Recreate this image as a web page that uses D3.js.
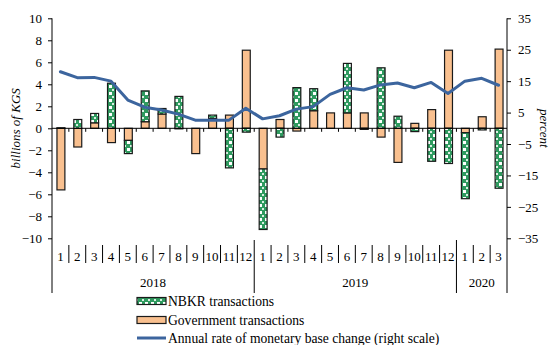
<!DOCTYPE html>
<html>
<head>
<meta charset="utf-8">
<script src="https://cdn.jsdelivr.net/npm/d3@7"></script>
<style>
  body { margin: 0; background: #fff; }
  svg { display: block; }
  text { font-family: "Liberation Serif", "Times New Roman", serif; font-size: 13px; fill: #000; }
</style>
</head>
<body>
<svg id="chart" width="554" height="345"></svg>
<script>
// Monthly periods, grouped by year
const years = ["2018", "2019", "2020"];
const monthsPerYear = [12, 12, 3];
const monthLabels = [
  "1","2","3","4","5","6","7","8","9","10","11","12",
  "1","2","3","4","5","6","7","8","9","10","11","12",
  "1","2","3"
];

// NBKR transactions, billions of KGS
const nbkrValues = [
  0.05, 0.8, 0.85, 4.1, -1.2, 2.8, 0.5, 2.9, 0, 0.3, -3.6, -0.35,
  -5.5, -0.8, 3.7, 2.0, 0, 4.5, -0.1, 5.5, 1.1, -0.3, -3.0, -3.2,
  -6.0, -0.15, -5.45
];

// Government transactions, billions of KGS
const govValues = [
  -5.6, -1.7, 0.5, -1.3, -1.1, 0.6, 1.3, -0.05, -2.3, 0.9, 1.2, 7.1,
  -3.7, 0.8, -0.25, 1.6, 1.4, 1.4, 1.4, -0.8, -3.1, 0.45, 1.7, 7.1,
  -0.4, 1.05, 7.2
];

// Annual rate of monetary base change, percent (right scale)
const baseRate = [
  18.0, 16.1, 16.2, 15.0, 9.0, 6.7, 5.8, 4.5, 2.6, 2.6, 2.6, 6.4,
  3.0, 4.0, 6.1, 6.9, 10.8, 12.9, 12.2, 13.8, 14.4, 12.9, 14.6, 11.1,
  15.0, 15.9, 13.7
];

const leftTicks = [-10, -8, -6, -4, -2, 0, 2, 4, 6, 8, 10];
const rightTicks = [-35, -25, -15, -5, 5, 15, 25, 35];

const seriesNames = ["NBKR transactions", "Government transactions", "Annual rate of monetary base change (right scale)"];

const svg = d3.select("#chart");
const plot = { left: 52, right: 507, top: 18.3, bottom: 238.3 };

const idx = d3.range(monthLabels.length);
const x = d3.scaleBand().domain(idx).range([plot.left, plot.right]).padding(0);
const yL = d3.scaleLinear().domain([-10, 10]).range([plot.bottom, plot.top]);
const yR = d3.scaleLinear().domain([-35, 35]).range([plot.bottom, plot.top]);

// Dotted fill for the NBKR segments
const defs = svg.append("defs");
const pat = defs.append("pattern")
  .attr("id", "dots").attr("patternUnits", "userSpaceOnUse")
  .attr("width", 6).attr("height", 7);
pat.append("rect").attr("width", 6).attr("height", 7).attr("fill", "#2f9a5f");
pat.append("rect").attr("x", 1).attr("y", 1).attr("width", 3).attr("height", 3).attr("fill", "#ffffff");
pat.append("rect").attr("x", 4).attr("y", 5).attr("width", 2).attr("height", 2).attr("fill", "#d9efe2");

// Stacked bars: government nearest the zero line, NBKR outside it
const rows = idx.map(i => ({ i, gov: govValues[i], nbkr: nbkrValues[i] }));
const stacked = d3.stack().keys(["gov", "nbkr"]).offset(d3.stackOffsetDiverging)(rows);
const fills = { gov: "#f9c08f", nbkr: "url(#dots)" };
const barW = x.bandwidth() * 0.47;

stacked.forEach(layer => {
  svg.append("g").selectAll("rect")
    .data(layer.filter(d => d[1] !== d[0]))
    .join("rect")
    .attr("x", d => x(d.data.i) + (x.bandwidth() - barW) / 2 + 0.5)
    .attr("y", d => yL(Math.max(d[0], d[1])))
    .attr("width", barW)
    .attr("height", d => Math.abs(yL(d[0]) - yL(d[1])))
    .attr("fill", fills[layer.key])
    .attr("stroke", "#1a1a1a")
    .attr("stroke-width", 1.2);
});

// Zero line with category ticks
const zeroY = yL(0);
svg.append("line")
  .attr("x1", plot.left).attr("x2", plot.right)
  .attr("y1", zeroY).attr("y2", zeroY)
  .attr("stroke", "#000").attr("stroke-width", 1);
svg.append("g").selectAll("line")
  .data(d3.range(1, monthLabels.length))
  .join("line")
  .attr("x1", i => x(i)).attr("x2", i => x(i))
  .attr("y1", zeroY).attr("y2", zeroY + 3.5)
  .attr("stroke", "#000").attr("stroke-width", 1);

// Monetary base line
const line = d3.line()
  .x((d, i) => x(i) + x.bandwidth() / 2)
  .y(d => yR(d))
  .curve(d3.curveLinear);
svg.append("path")
  .datum(baseRate)
  .attr("d", line)
  .attr("fill", "none")
  .attr("stroke", "#3c659e")
  .attr("stroke-width", 3)
  .attr("stroke-linejoin", "round")
  .attr("stroke-linecap", "round");

// Left axis
const axisBottomY = 293;
svg.append("line")
  .attr("x1", plot.left).attr("x2", plot.left)
  .attr("y1", plot.top).attr("y2", axisBottomY)
  .attr("stroke", "#000");
const gl = svg.append("g")
  .attr("transform", `translate(${plot.left},0)`)
  .call(d3.axisLeft(yL).tickValues(leftTicks).tickSize(4).tickPadding(6).tickFormat(d3.format("d")));
gl.select(".domain").remove();
gl.selectAll("text").attr("font-size", 13).attr("font-family", "Liberation Serif, serif").attr("fill", "#000");

// Right axis
svg.append("line")
  .attr("x1", plot.right).attr("x2", plot.right)
  .attr("y1", plot.top).attr("y2", axisBottomY)
  .attr("stroke", "#000");
const gr = svg.append("g")
  .attr("transform", `translate(${plot.right},0)`)
  .call(d3.axisRight(yR).tickValues(rightTicks).tickSize(4).tickPadding(7).tickFormat(d3.format("d")));
gr.select(".domain").remove();
gr.selectAll("text").attr("font-size", 13).attr("font-family", "Liberation Serif, serif").attr("fill", "#000");

// Axis titles
svg.append("text")
  .attr("transform", `translate(20,${(plot.top + plot.bottom) / 2}) rotate(-90)`)
  .attr("text-anchor", "middle")
  .style("font-style", "italic")
  .text("billions of KGS");
svg.append("text")
  .attr("transform", `translate(540,${(plot.top + plot.bottom) / 2}) rotate(90)`)
  .attr("text-anchor", "middle")
  .style("font-style", "italic")
  .text("percent");

// Month labels and separators
const labelY = 256;
svg.append("g").selectAll("text")
  .data(idx)
  .join("text")
  .attr("x", i => x(i) + x.bandwidth() / 2)
  .attr("y", labelY)
  .attr("dy", "0.35em")
  .attr("text-anchor", "middle")
  .text(i => monthLabels[i]);

const yearStarts = monthsPerYear.reduce((acc, n) => { acc.push(acc[acc.length - 1] + n); return acc; }, [0]);
const monthSeps = d3.range(1, monthLabels.length).filter(i => !yearStarts.includes(i));
svg.append("g").selectAll("line")
  .data(monthSeps)
  .join("line")
  .attr("x1", i => x(i)).attr("x2", i => x(i))
  .attr("y1", 245).attr("y2", 263)
  .attr("stroke", "#000");

// Year labels and group separators
svg.append("g").selectAll("line")
  .data(yearStarts.slice(1, -1))
  .join("line")
  .attr("x1", i => x(i)).attr("x2", i => x(i))
  .attr("y1", 240).attr("y2", axisBottomY)
  .attr("stroke", "#000");
svg.append("g").selectAll("text")
  .data(years)
  .join("text")
  .attr("x", (d, k) => (x(yearStarts[k]) + (yearStarts[k + 1] < monthLabels.length ? x(yearStarts[k + 1]) : plot.right)) / 2)
  .attr("y", 282)
  .attr("dy", "0.35em")
  .attr("text-anchor", "middle")
  .text(d => d);

// Legend
const lg = svg.append("g");
const legendX = 137, swW = 29, textX = 168;
const rowsY = [301, 320, 338];
lg.append("rect").attr("x", legendX).attr("y", rowsY[0] - 3.5).attr("width", swW).attr("height", 7)
  .attr("fill", "url(#dots)").attr("stroke", "#1a1a1a").attr("stroke-width", 1.2);
lg.append("rect").attr("x", legendX).attr("y", rowsY[1] - 3.5).attr("width", swW).attr("height", 7)
  .attr("fill", "#f9c08f").attr("stroke", "#1a1a1a").attr("stroke-width", 1.2);
lg.append("line").attr("x1", legendX).attr("x2", legendX + swW).attr("y1", rowsY[2]).attr("y2", rowsY[2])
  .attr("stroke", "#3c659e").attr("stroke-width", 3);
lg.selectAll("text")
  .data(seriesNames)
  .join("text")
  .attr("x", textX)
  .attr("y", (d, k) => rowsY[k])
  .attr("dy", "0.35em")
  .style("font-size", "13.6px")
  .text(d => d);
</script>
</body>
</html>
